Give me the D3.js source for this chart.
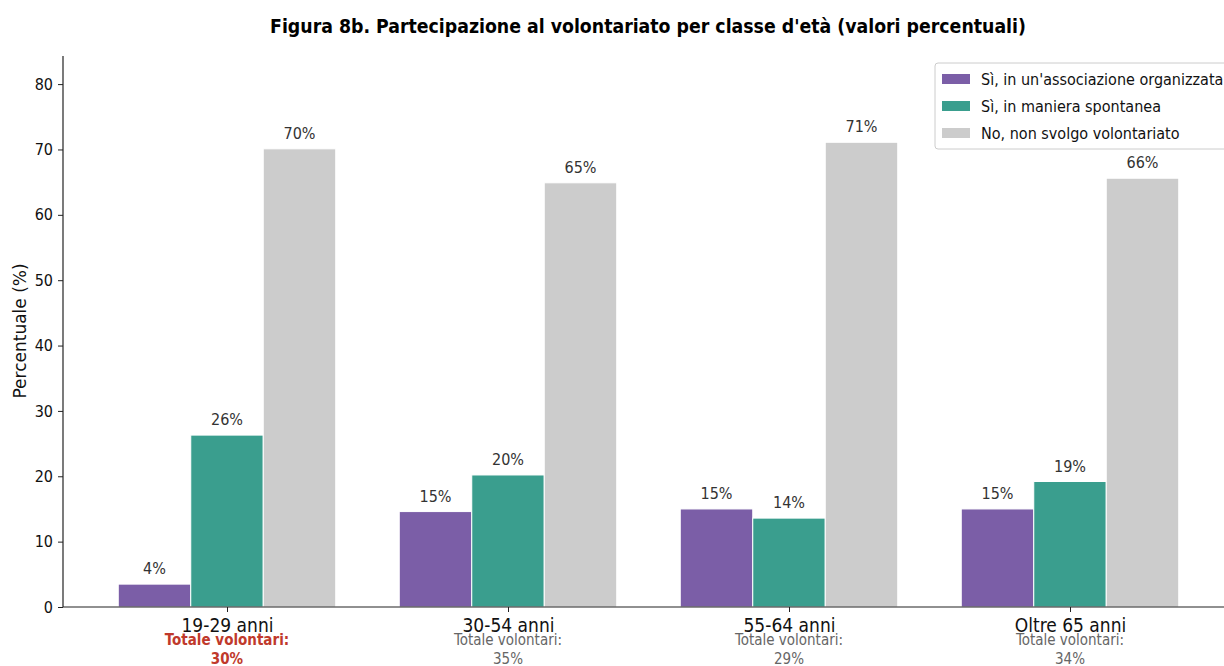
<!DOCTYPE html>
<html><head><meta charset="utf-8">
<script src="https://cdn.jsdelivr.net/npm/d3@7"></script>
<style>body{margin:0;background:#fff}svg{display:block}</style>
</head><body>
<svg id="c" width="1224" height="666"></svg>
<script>
const categories = ["19-29 anni", "30-54 anni", "55-64 anni", "Oltre 65 anni"];
const seriesNames = ["Sì, in un'associazione organizzata", "Sì, in maniera spontanea", "No, non svolgo volontariato"];
const organizzata = [3.5, 14.6, 15.0, 15.0];
const spontanea = [26.3, 20.2, 13.6, 19.2];
const noVolont = [70.1, 64.9, 71.1, 65.6];
const totals = [30, 35, 29, 34];
const yTicks = [0, 10, 20, 30, 40, 50, 60, 70, 80];
const colors = ["#7b5ea7", "#3a9e8e", "#cccccc"];
const series = [organizzata, spontanea, noVolont];

(function () {
const svg = d3.select("#c");
const FC = "'DejaVu Sans Condensed', 'DejaVu Sans', sans-serif";
const F = "'DejaVu Sans', sans-serif";
const mLeft = 63, mBottom = 607, mTop = 56, mRight = 1224;

const y = d3.scaleLinear().domain([0, 84.3]).range([mBottom, mTop]);
const x = d3.scaleLinear().domain([0, 1]).range([227, 508]);
const bw = 0.258;

series.forEach((vals, s) => {
  svg.append("g").selectAll("rect").data(vals).join("rect")
    .attr("x", (d, i) => x(i + (s - 1) * bw - bw / 2))
    .attr("width", x(bw) - x(0))
    .attr("y", d => y(d))
    .attr("height", d => y(0) - y(d))
    .attr("fill", colors[s])
    .attr("stroke", "#fff").attr("stroke-width", 1);
  svg.append("g").selectAll("text").data(vals).join("text")
    .attr("x", (d, i) => x(i + (s - 1) * bw))
    .attr("y", d => y(d) - 10)
    .attr("text-anchor", "middle")
    .attr("font-family", FC).attr("font-size", 16).attr("fill", "#333")
    .text(d => Math.round(d) + "%");
});

const ya = svg.append("g").attr("transform", `translate(${mLeft},0)`)
  .call(d3.axisLeft(y).tickValues(yTicks).tickSize(5).tickPadding(5));
ya.select(".domain").attr("d", `M0,${mTop}V${mBottom}`).attr("stroke", "#222").attr("stroke-width", 1.2);
ya.selectAll("text").attr("font-family", FC).attr("font-size", 16).attr("fill", "#111");
ya.selectAll("line").attr("stroke", "#222");

const xa = svg.append("g").attr("transform", `translate(0,${mBottom})`)
  .call(d3.axisBottom(x).tickValues(d3.range(categories.length)).tickFormat(i => categories[i]).tickSize(5).tickPadding(7));
xa.select(".domain").attr("d", `M${mLeft},0H${mRight}`).attr("stroke", "#222").attr("stroke-width", 1.2);
xa.selectAll("line").attr("stroke", "#222");
xa.selectAll("text").attr("font-family", FC).attr("font-size", 19).attr("fill", "#111");

categories.forEach((c, i) => {
  const first = i === 0;
  const g = svg.append("g").attr("font-family", FC).attr("text-anchor", "middle")
    .attr("font-size", 15).attr("fill", first ? "#c0392b" : "#666")
    .attr("font-weight", first ? "bold" : "normal");
  g.append("text").attr("x", x(i)).attr("y", 645).text("Totale volontari:");
  g.append("text").attr("x", x(i)).attr("y", 664).text(totals[i] + "%");
});

svg.append("text").attr("transform", `translate(26,331) rotate(-90)`)
  .attr("text-anchor", "middle").attr("font-family", F).attr("font-size", 17).attr("fill", "#111")
  .text("Percentuale (%)");

svg.append("text").attr("x", 648).attr("y", 33).attr("text-anchor", "middle")
  .attr("font-family", FC).attr("font-weight", "bold").attr("font-size", 19.3).attr("fill", "#000")
  .text("Figura 8b. Partecipazione al volontariato per classe d'età (valori percentuali)");

const lg = svg.append("g").attr("transform", "translate(935,63)");
lg.append("rect").attr("width", 300).attr("height", 86).attr("rx", 3)
  .attr("fill", "#fff").attr("fill-opacity", 0.85).attr("stroke", "#ccc");
seriesNames.forEach((n, s) => {
  lg.append("rect").attr("x", 7).attr("y", 11 + s * 27).attr("width", 28).attr("height", 10).attr("fill", colors[s]);
  lg.append("text").attr("x", 46).attr("y", 22 + s * 27).attr("font-family", FC).attr("font-size", 16)
    .attr("fill", "#111").text(n);
});
})();
</script>
</body></html>
